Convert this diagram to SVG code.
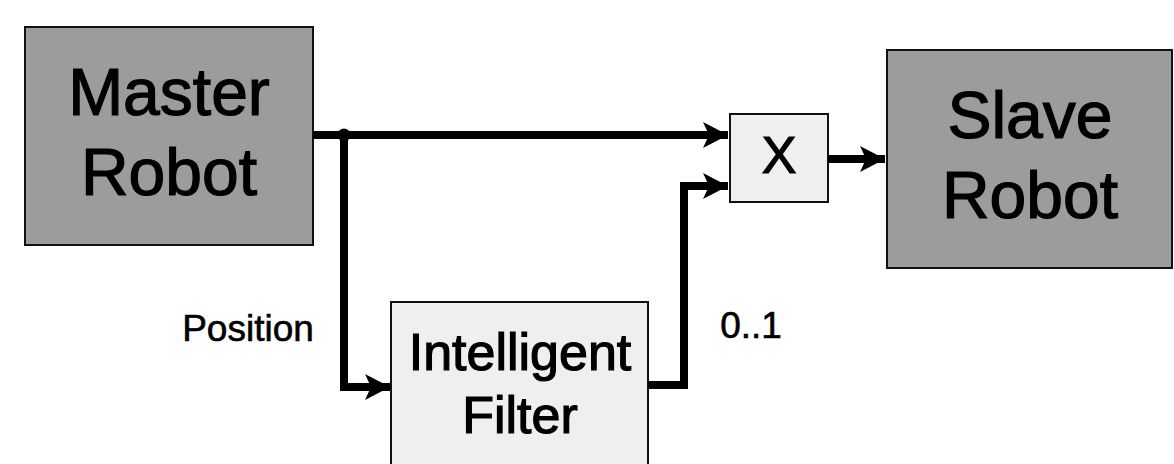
<svg xmlns="http://www.w3.org/2000/svg" width="1174" height="464" viewBox="0 0 1174 464">
<style>
.dark{fill:#9c9c9c;stroke:#111;stroke-width:2}
.light{fill:#efefef;stroke:#111;stroke-width:2}
.t{font-family:"Liberation Sans",Arial,sans-serif;fill:#000;stroke:#000;stroke-width:1.2;text-anchor:middle}
.big{font-size:66px}
.mid{font-size:52px}
.sm{font-size:37px;stroke-width:0.6}
.w{fill:none;stroke:#000;stroke-width:8;stroke-linejoin:miter}
</style>
<defs>
<marker id="ah" markerUnits="userSpaceOnUse" markerWidth="28" markerHeight="30" refX="25" refY="15" orient="auto">
<path d="M0,2 L25,15 L0,28 L6,15 Z" fill="#000"/>
</marker>
</defs>
<g id="master">
<rect class="dark" x="25" y="27" width="288" height="218"/>
<text class="t big" x="169" y="115">Master</text>
<text class="t big" x="169" y="195">Robot</text>
</g>
<g id="slave">
<rect class="dark" x="887" y="50" width="285" height="218"/>
<text class="t big" x="1030" y="138">Slave</text>
<text class="t big" x="1030" y="218">Robot</text>
</g>
<g id="mult">
<rect class="light" x="730" y="114" width="98" height="88"/>
<text class="t mid" x="779" y="173">X</text>
</g>
<g id="filter">
<rect class="light" x="391" y="302" width="257" height="170"/>
<text class="t mid" x="520" y="370">Intelligent</text>
<text class="t mid" x="520" y="433">Filter</text>
</g>
<g id="connectors">
<path class="w" d="M313,135 L728,135" marker-end="url(#ah)"/>
<circle cx="344" cy="135" r="6.5" fill="#000"/>
<path class="w" d="M344,135 L344,387 L390,387" marker-end="url(#ah)"/>
<path class="w" d="M648,385 L684,385 L684,186 L728,186" marker-end="url(#ah)"/>
<path class="w" d="M828,159 L885,159" marker-end="url(#ah)"/>
</g>
<g id="labels">
<text class="t sm" x="248" y="341">Position</text>
<text class="t sm" x="751" y="338">0..1</text>
</g>
</svg>
